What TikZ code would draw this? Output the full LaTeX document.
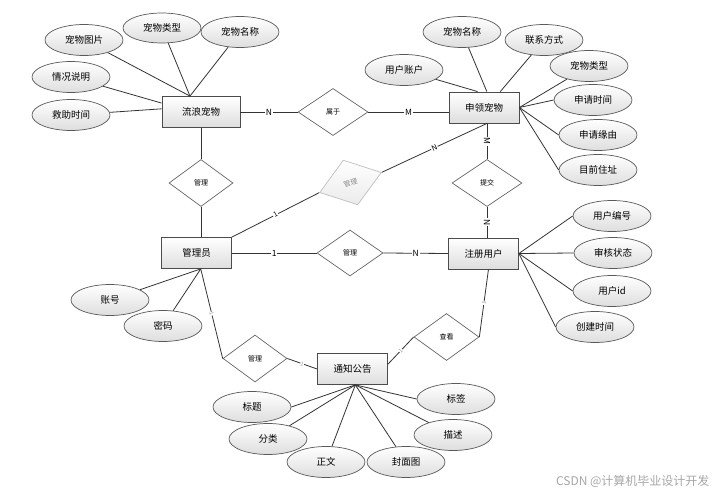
\documentclass[tikz,border=0pt]{standalone}
\usepackage{fontspec}
\setmainfont{Noto Sans CJK SC}
\usetikzlibrary{shapes.geometric,positioning,calc}

\tikzset{
  entity/.style={draw=black!70, line width=0.8pt, top color=white, bottom color=black!13,
    minimum width=70pt, minimum height=31pt, inner sep=0pt, font=\fontsize{9.5}{11}\selectfont},
  attr/.style={ellipse, draw=black!65, line width=0.7pt, top color=white, bottom color=black!13,
    minimum width=78pt, minimum height=31pt, inner sep=0pt, font=\fontsize{9.5}{11}\selectfont},
  rel/.style={diamond, draw=black!60, line width=0.7pt, fill=white,
    minimum width=66pt, minimum height=47pt, inner sep=0pt, font=\fontsize{7}{8}\selectfont},
  link/.style={draw=black!80, line width=0.8pt},
  card/.style={fill=white, inner sep=0.8pt, font=\fontsize{8.5}{9}\selectfont},
  faint/.style={fill=white, text=black!40, inner sep=0.3pt, sloped, font=\fontsize{5.5}{6}\selectfont},
}

\begin{document}
\begin{tikzpicture}[x=1pt,y=-1pt]
  \useasboundingbox (0,0) rectangle (722,494);

  % entities
  \node[entity, minimum width=78pt] (stray) at (201,112) {流浪宠物};
  \node[entity] (claim) at (484,107.5) {申领宠物};
  \node[entity] (admin) at (196.5,253) {管理员};
  \node[entity] (user) at (483.5,253.5) {注册用户};
  \node[entity] (notice) at (352.5,369) {通知公告};

  % relations
  \node[rel, minimum width=70pt] (belong) at (333,112) {属于};
  \node[rel, minimum width=64pt] (mgrPet) at (201,183) {管理};
  \node[rel, minimum width=70pt] (submit) at (487,183) {提交};
  \node[rel, minimum height=46pt] (mgrUser) at (350,253) {管理};
  \node[rel, minimum width=64pt] (mgrNotice) at (255,358.5) {管理};
  \node[rel, minimum width=65pt] (view) at (446.5,337) {查看};
  \node[rel, rotate=18, draw=black!25, text=black!45, top color=white, bottom color=black!8,
    minimum width=65pt] (mgrClaim) at (350.5,182.5) {管理};

  % attributes
  \node[attr] (petPic) at (84,40) {宠物图片};
  \node[attr, minimum height=30pt] (petType) at (162,28) {宠物类型};
  \node[attr] (petName) at (240,32) {宠物名称};
  \node[attr] (petState) at (71,77) {情况说明};
  \node[attr] (rescueTime) at (71,115) {救助时间};

  \node[attr] (claimName) at (462,32) {宠物名称};
  \node[attr] (contact) at (544,40) {联系方式};
  \node[attr] (account) at (404,70) {用户账户};
  \node[attr] (claimType) at (589,66) {宠物类型};
  \node[attr] (applyTime) at (593,100) {申请时间};
  \node[attr] (reason) at (598,135) {申请缘由};
  \node[attr] (address) at (598,170) {目前住址};

  \node[attr] (userNo) at (612,216) {用户编号};
  \node[attr] (audit) at (613,253) {审核状态};
  \node[attr] (userId) at (612,291) {用户id};
  \node[attr] (created) at (595,327) {创建时间};

  \node[attr] (accountNo) at (110,300) {账号};
  \node[attr] (password) at (163,326) {密码};

  \node[attr] (title) at (252,407) {标题};
  \node[attr] (category) at (268,439) {分类};
  \node[attr] (body) at (326,462) {正文};
  \node[attr] (cover) at (406,462) {封面图};
  \node[attr] (desc) at (453,435) {描述};
  \node[attr] (tag) at (456,399) {标签};

  % meeting points of the attribute lines
  \coordinate (strayTop) at ($(stray.north west)!0.36!(stray.north east)$);
  \coordinate (adminBottom) at ($(admin.south west)!0.56!(admin.south east)$);
  \coordinate (userBottom) at ($(user.south west)!0.57!(user.south east)$);
  \coordinate (noticeBottom) at ($(notice.south west)!0.54!(notice.south east)$);
  \coordinate (noticeRight) at ($(notice.north east)!0.35!(notice.south east)$);
  \coordinate (claimBottom) at (submit.north |- claim.south);

  \foreach \a in {petPic,petType,petName}
    \draw[link] (\a) -- (strayTop);
  \draw[link] (petState) -- ($(stray.north west)!0.22!(stray.south west)$);
  \draw[link] (rescueTime) -- ($(stray.north west)!0.4!(stray.south west)$);

  \draw[link] (account) -- ($(claim.north west)!0.41!(claim.north east)$);
  \draw[link] (claimName) -- ($(claim.north west)!0.54!(claim.north east)$);
  \draw[link] (contact) -- ($(claim.north west)!0.73!(claim.north east)$);
  \draw[link] (claimType) -- (claim.east);
  \foreach \a in {applyTime,reason,address}
    \draw[link] (\a.west) -- (claim.east);

  \foreach \a in {userNo,audit,userId,created}
    \draw[link] (\a.west) -- (user.east);

  \draw[link] (accountNo) -- (adminBottom);
  \draw[link] (password) -- (adminBottom);

  \draw[link] (title.east) -- (noticeBottom);
  \draw[link] (tag.west) -- (noticeBottom);
  \foreach \a in {category,body,cover,desc}
    \draw[link] (\a) -- (noticeBottom);

  % relation lines
  \draw[link] (stray.east) -- node[card]{N} (belong.west);
  \draw[link] (belong.east) -- node[card]{M} (belong.east -| claim.west);
  \draw[link] (stray.south) -- (mgrPet.north);
  \draw[link] (mgrPet.south) -- (mgrPet.south |- admin.north);
  \draw[link] (admin.north east) -- node[card, sloped, font=\fontsize{7}{8}\selectfont]{1} (mgrClaim.west);
  \draw[link] (mgrClaim.east) -- node[card, sloped, font=\fontsize{7.5}{8}\selectfont]{N} (claimBottom);
  \draw[link] (claimBottom) -- node[card, sloped]{M} (submit.north);
  \draw[link] (submit.south) -- node[card, sloped]{N} (submit.south |- user.north);
  \draw[link] (admin.east) -- node[card]{1} (mgrUser.west);
  \draw[link] (mgrUser.east) -- node[card]{N} (user.west);
  \draw[link] (adminBottom) -- node[faint]{1} (mgrNotice.west);
  \draw[link] (mgrNotice.east) -- node[faint]{1} (notice.west);
  \draw[link] (userBottom) -- node[faint]{1} (view.east);
  \draw[link] (view.west) -- node[faint]{1} (noticeRight);

  \node[anchor=east, text=black!35, font=\fontsize{12}{14}\selectfont] (mark) at (713,481) {CSDN @计算机毕业设计开发};
\end{tikzpicture}
\end{document}
